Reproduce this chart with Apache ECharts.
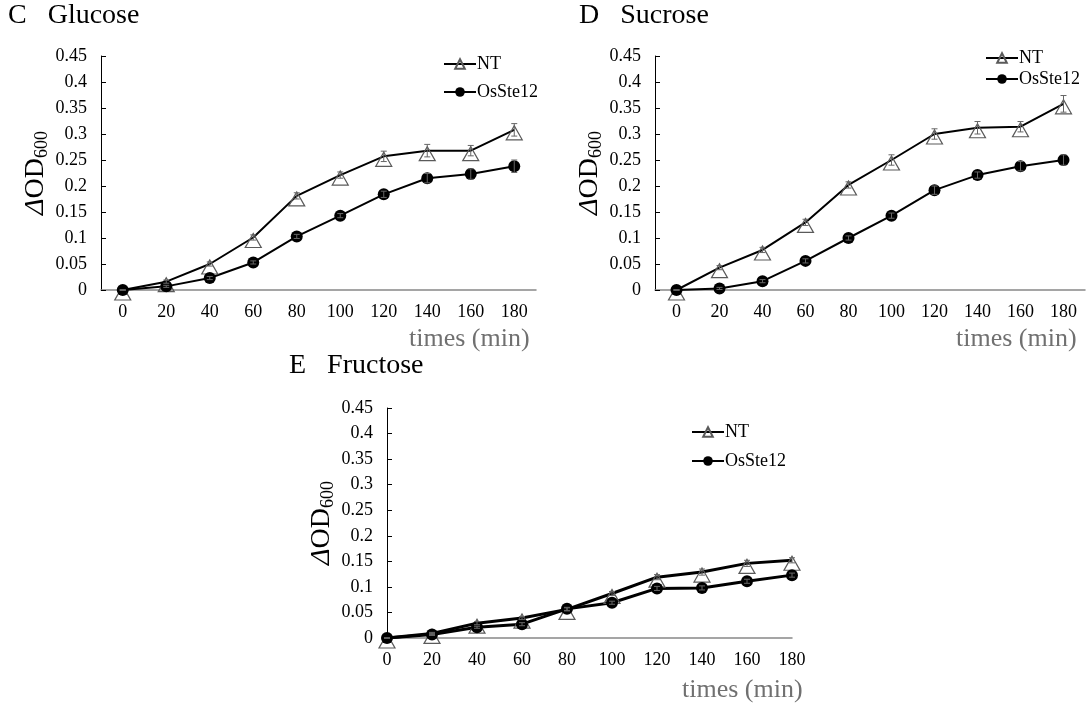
<!DOCTYPE html>
<html lang="en">
<head>
    <meta charset="UTF-8">
    <title>OD600 growth curves</title>
    <style>
        * { padding: 0; margin: 0; }
        body { background: #fff; }
    </style>
    <script type="text/javascript" src="https://cdn.jsdelivr.net/npm/echarts@6/dist/echarts.min.js"></script>
</head>
<body>
    <div id="main" style="width: 1087px; height: 707px;"></div>
    <script type="text/javascript">
        // time points (min)
        var times = ["0", "20", "40", "60", "80", "100", "120", "140", "160", "180"];

        // C Glucose
        var glucoseNT = [0, 0.016, 0.05, 0.101, 0.181, 0.221, 0.257, 0.268, 0.268, 0.308];
        var glucoseNTErr = [0, 0.003, 0.004, 0.005, 0.006, 0.006, 0.01, 0.012, 0.01, 0.012];
        var glucoseOs = [0, 0.007, 0.023, 0.053, 0.103, 0.143, 0.184, 0.215, 0.223, 0.238];
        var glucoseOsErr = [0, 0.002, 0.003, 0.003, 0.004, 0.004, 0.006, 0.009, 0.01, 0.012];

        // D Sucrose
        var sucroseNT = [0, 0.043, 0.077, 0.130, 0.202, 0.250, 0.300, 0.312, 0.314, 0.358];
        var sucroseNTErr = [0, 0.004, 0.005, 0.006, 0.006, 0.01, 0.01, 0.012, 0.01, 0.016];
        var sucroseOs = [0, 0.003, 0.017, 0.056, 0.100, 0.143, 0.192, 0.221, 0.238, 0.250];
        var sucroseOsErr = [0, 0.002, 0.003, 0.004, 0.004, 0.005, 0.008, 0.006, 0.009, 0.01];

        // E Fructose
        var fructoseNT = [0, 0.009, 0.029, 0.039, 0.056, 0.087, 0.119, 0.129, 0.146, 0.152];
        var fructoseNTErr = [0, 0.002, 0.003, 0.003, 0.003, 0.004, 0.005, 0.006, 0.006, 0.005];
        var fructoseOs = [0, 0.007, 0.021, 0.027, 0.057, 0.069, 0.097, 0.098, 0.111, 0.123];
        var fructoseOsErr = [0, 0.002, 0.002, 0.003, 0.003, 0.003, 0.004, 0.004, 0.004, 0.004];

        var serif = "'Liberation Serif', 'Times New Roman', serif";

        var myChart = echarts.init(document.getElementById('main'));

        function errData(vals, errs) {
            return vals.map(function (v, i) {
                return [i, v - errs[i], v + errs[i]];
            });
        }

        // 误差线
        function renderErr(params, api) {
            var lo = api.coord([api.value(0), api.value(1)]);
            var hi = api.coord([api.value(0), api.value(2)]);
            var st = { stroke: '#666', lineWidth: 1 };
            return {
                type: 'group',
                children: [
                    { type: 'line', shape: { x1: lo[0], y1: lo[1], x2: hi[0], y2: hi[1] }, style: st },
                    { type: 'line', shape: { x1: lo[0] - 3, y1: lo[1], x2: lo[0] + 3, y2: lo[1] }, style: st },
                    { type: 'line', shape: { x1: hi[0] - 3, y1: hi[1], x2: hi[0] + 3, y2: hi[1] }, style: st }
                ]
            };
        }

        function xAxisOf(grid, gap) {
            return {
                type: 'category',
                gridIndex: grid,
                data: times,
                boundaryGap: gap,
                axisLine: { lineStyle: { color: '#888', width: 1.5 } },
                axisTick: { show: false },
                axisLabel: { color: '#000', fontSize: 18, fontFamily: serif, margin: 13, interval: 0 }
            };
        }

        function yAxisOf(grid) {
            return {
                type: 'value',
                gridIndex: grid,
                min: 0,
                max: 0.45,
                interval: 0.05,
                name: '{d|Δ}{o|OD}{s|600}',
                nameLocation: 'middle',
                nameGap: 50,
                nameRotate: 90,
                nameTextStyle: {
                    rich: {
                        d: { fontSize: 28, fontFamily: serif, fontStyle: 'italic', color: '#000' },
                        o: { fontSize: 28, fontFamily: serif, color: '#000' },
                        s: { fontSize: 18, fontFamily: serif, color: '#000', padding: [12, 0, 0, 0] }
                    }
                },
                axisLine: { show: true, lineStyle: { color: '#000', width: 1 } },
                axisTick: { show: true, inside: true, length: 5, lineStyle: { color: '#000' } },
                splitLine: { show: false },
                axisLabel: { color: '#000', fontSize: 18, fontFamily: serif, margin: 14 }
            };
        }

        function ntSeries(grid, vals, w) {
            return {
                name: 'NT',
                type: 'line',
                xAxisIndex: grid,
                yAxisIndex: grid,
                data: vals,
                symbol: 'triangle',
                symbolSize: [16, 14],
                symbolOffset: [0, 3],
                lineStyle: { color: '#000', width: w },
                itemStyle: { color: 'rgba(255,255,255,0)', borderColor: '#5a5a5a', borderWidth: 1.2 },
                z: 3
            };
        }

        function osSeries(grid, vals, w) {
            return {
                name: 'OsSte12',
                type: 'line',
                xAxisIndex: grid,
                yAxisIndex: grid,
                data: vals,
                symbol: 'circle',
                symbolSize: 12,
                lineStyle: { color: '#000', width: w },
                itemStyle: { color: '#000' },
                z: 3
            };
        }

        function errSeries(grid, vals, errs) {
            return {
                name: 'err',
                type: 'custom',
                xAxisIndex: grid,
                yAxisIndex: grid,
                renderItem: renderErr,
                data: errData(vals, errs),
                z: 4
            };
        }

        function legendOf(left, top, gap) {
            return {
                data: ['NT', 'OsSte12'],
                orient: 'vertical',
                left: left,
                top: top,
                itemGap: gap,
                itemWidth: 32,
                itemHeight: 12,
                selectedMode: false,
                textStyle: { color: '#000', fontSize: 18, fontFamily: serif, padding: [0, 0, 0, -4] }
            };
        }

        function label(text, left, top, size, color) {
            return {
                type: 'text',
                left: left,
                top: top,
                style: { text: text, fontSize: size, fontFamily: serif, fill: color }
            };
        }

        var option = {
            animation: false,
            grid: [
                { left: 101, top: 56, width: 435, height: 234 },
                { left: 655, top: 56, width: 430, height: 234 },
                { left: 387, top: 408, width: 405, height: 230 }
            ],
            xAxis: [xAxisOf(0, true), xAxisOf(1, true), xAxisOf(2, false)],
            yAxis: [yAxisOf(0), yAxisOf(1), yAxisOf(2)],
            legend: [
                legendOf(438, 50, 10),
                legendOf(980, 44, 3),
                legendOf(686, 418, 11)
            ],
            graphic: [
                label('C   Glucose', 8, 2, 28, '#000'),
                label('D   Sucrose', 579, 2, 28, '#000'),
                label('E   Fructose', 289, 352, 28, '#000'),
                label('times (min)', 409, 326, 26, '#707070'),
                label('times (min)', 956, 326, 26, '#707070'),
                label('times (min)', 682, 677, 26, '#707070')
            ],
            series: [
                ntSeries(0, glucoseNT, 2), osSeries(0, glucoseOs, 2),
                errSeries(0, glucoseNT, glucoseNTErr), errSeries(0, glucoseOs, glucoseOsErr),
                ntSeries(1, sucroseNT, 2), osSeries(1, sucroseOs, 2),
                errSeries(1, sucroseNT, sucroseNTErr), errSeries(1, sucroseOs, sucroseOsErr),
                ntSeries(2, fructoseNT, 3), osSeries(2, fructoseOs, 3),
                errSeries(2, fructoseNT, fructoseNTErr), errSeries(2, fructoseOs, fructoseOsErr)
            ]
        };

        myChart.setOption(option);
    </script>
</body>
</html>
